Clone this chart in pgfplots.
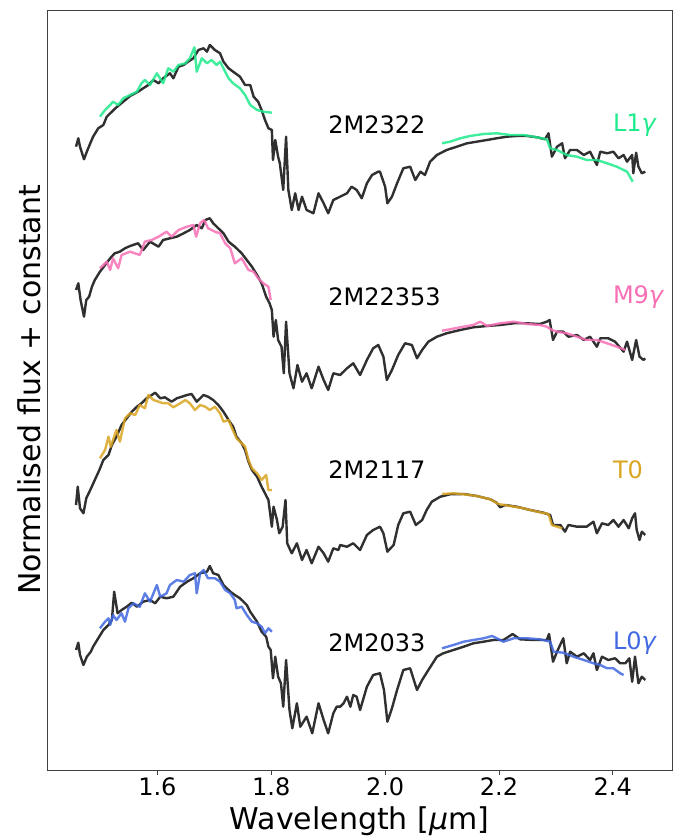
\documentclass[border=0pt]{standalone}
\usepackage{pgfplots}
\pgfplotsset{compat=1.18}
\usepackage{fontspec}
\setmainfont{DejaVu Sans}
\definecolor{spec}{HTML}{303030}
\definecolor{cgreen}{HTML}{1FEA8C}
\definecolor{cpink}{HTML}{F76EB5}
\definecolor{cgold}{HTML}{DAA520}
\definecolor{cblue}{HTML}{4169E1}
\begin{document}
\fontsize{24}{29}\selectfont
\begin{tikzpicture}
\begin{axis}[name=ax, scale only axis, width=625pt, height=760pt,
  xmin=1.406, xmax=2.504, ymin=0, ymax=7.6,
  xtick={1.6,1.8,2.0,2.2,2.4}, ytick=\empty, tick pos=left,
  xticklabel={\pgfmathprintnumber[fixed,fixed zerofill,precision=1]{\tick}},
  /pgf/number format/assume math mode=true,
  tick align=outside, major tick length=5pt,
  axis line style={black!75, line width=0.9pt},
  x tick style={black!75, line width=0.9pt},
  every tick label/.append style={font=\fontsize{24}{29}\selectfont, inner sep=2pt},
  label style={font=\fontsize{30}{36}\selectfont},
  xlabel={Wavelength [{\itshape μ}m]},
  ylabel={Normalised flux + constant},
  xlabel style={at={(axis description cs:0.5,-0.068)}, anchor=center},
  ylabel style={at={(axis description cs:-0.029,0.5)}, anchor=center},
  every axis plot/.append style={line width=2.4pt, line join=round},
  clip=false]
% ---------- 2M2322 ----------
\addplot[spec] table[row sep=\\] {
1.457 6.233\\ 1.461 6.317\\ 1.464 6.233\\ 1.471 6.107\\ 1.476 6.183\\ 1.482 6.267\\ 1.487 6.333\\ 1.496 6.417\\ 1.505 6.45\\ 1.511 6.533\\ 1.520 6.583\\ 1.528 6.627\\ 1.540 6.683\\ 1.552 6.74\\ 1.566 6.783\\ 1.575 6.817\\ 1.584 6.85\\ 1.593 6.9\\ 1.602 6.867\\ 1.610 6.917\\ 1.622 6.967\\ 1.628 6.917\\ 1.637 7.033\\ 1.646 7.05\\ 1.654 7.083\\ 1.663 7.117\\ 1.672 7.2\\ 1.681 7.217\\ 1.687 7.183\\ 1.692 7.25\\ 1.701 7.2\\ 1.710 7.167\\ 1.716 7.083\\ 1.725 7.017\\ 1.733 6.983\\ 1.745 6.933\\ 1.754 6.85\\ 1.763 6.85\\ 1.769 6.733\\ 1.777 6.683\\ 1.783 6.6\\ 1.789 6.5\\ 1.795 6.417\\ 1.801 6.4\\ 1.803 6.1\\ 1.807 6.3\\ 1.812 6.133\\ 1.815 6.067\\ 1.821 5.8\\ 1.826 6.333\\ 1.830 5.8\\ 1.836 5.6\\ 1.842 5.767\\ 1.848 5.6\\ 1.854 5.733\\ 1.862 5.6\\ 1.874 5.567\\ 1.883 5.767\\ 1.892 5.667\\ 1.900 5.567\\ 1.909 5.7\\ 1.921 5.733\\ 1.933 5.767\\ 1.941 5.833\\ 1.950 5.8\\ 1.959 5.717\\ 1.968 5.867\\ 1.977 5.95\\ 1.988 5.983\\ 1.991 5.983\\ 2.000 5.833\\ 2.004 5.667\\ 2.012 5.733\\ 2.021 5.867\\ 2.032 6.017\\ 2.044 6.033\\ 2.053 5.9\\ 2.062 5.983\\ 2.070 5.95\\ 2.079 6.083\\ 2.091 6.15\\ 2.108 6.2\\ 2.126 6.233\\ 2.144 6.267\\ 2.161 6.283\\ 2.179 6.3\\ 2.196 6.317\\ 2.214 6.333\\ 2.231 6.34\\ 2.249 6.34\\ 2.267 6.327\\ 2.281 6.307\\ 2.287 6.367\\ 2.293 6.133\\ 2.302 6.233\\ 2.311 6.267\\ 2.316 6.117\\ 2.325 6.2\\ 2.337 6.2\\ 2.349 6.15\\ 2.360 6.183\\ 2.372 6.05\\ 2.378 6.183\\ 2.390 6.167\\ 2.401 6.183\\ 2.410 6.117\\ 2.419 6.15\\ 2.425 6.083\\ 2.434 6.15\\ 2.436 5.967\\ 2.441 6.173\\ 2.445 6.033\\ 2.451 5.967\\ 2.457 5.983\\
};
\addplot[cgreen, opacity=0.85] table[row sep=\\] {
1.499 6.533\\ 1.508 6.6\\ 1.517 6.65\\ 1.522 6.683\\ 1.531 6.65\\ 1.540 6.717\\ 1.552 6.75\\ 1.564 6.783\\ 1.572 6.867\\ 1.578 6.9\\ 1.587 6.85\\ 1.599 6.967\\ 1.610 6.867\\ 1.619 7.017\\ 1.628 6.983\\ 1.637 7.05\\ 1.649 7.067\\ 1.657 7.117\\ 1.665 7.227\\ 1.669 6.983\\ 1.678 7.117\\ 1.687 7.067\\ 1.695 7.1\\ 1.704 7.05\\ 1.710 7.083\\ 1.719 6.983\\ 1.725 6.917\\ 1.733 6.867\\ 1.745 6.817\\ 1.754 6.75\\ 1.763 6.65\\ 1.775 6.6\\ 1.786 6.583\\ 1.801 6.573\\
};
\addplot[cgreen, opacity=0.85] table[row sep=\\] {
2.100 6.267\\ 2.114 6.283\\ 2.132 6.317\\ 2.149 6.34\\ 2.173 6.36\\ 2.196 6.367\\ 2.220 6.35\\ 2.243 6.35\\ 2.261 6.333\\ 2.284 6.307\\ 2.290 6.217\\ 2.302 6.2\\ 2.319 6.15\\ 2.337 6.133\\ 2.354 6.1\\ 2.372 6.1\\ 2.390 6.067\\ 2.407 6.033\\ 2.425 5.983\\ 2.435 5.883\\
};
% ---------- 2M22353 ----------
\addplot[spec] table[row sep=\\] {
1.457 4.8\\ 1.461 4.867\\ 1.465 4.7\\ 1.471 4.533\\ 1.475 4.7\\ 1.480 4.733\\ 1.485 4.833\\ 1.490 4.9\\ 1.499 4.983\\ 1.508 5.05\\ 1.517 5.117\\ 1.525 5.167\\ 1.534 5.183\\ 1.543 5.217\\ 1.552 5.24\\ 1.566 5.267\\ 1.575 5.2\\ 1.587 5.283\\ 1.602 5.233\\ 1.610 5.3\\ 1.622 5.317\\ 1.634 5.333\\ 1.646 5.367\\ 1.657 5.4\\ 1.669 5.45\\ 1.678 5.417\\ 1.684 5.5\\ 1.692 5.517\\ 1.698 5.467\\ 1.707 5.417\\ 1.716 5.367\\ 1.725 5.283\\ 1.736 5.233\\ 1.748 5.167\\ 1.757 5.1\\ 1.766 5.033\\ 1.775 4.95\\ 1.783 4.867\\ 1.791 4.733\\ 1.797 4.667\\ 1.801 4.6\\ 1.804 4.333\\ 1.808 4.5\\ 1.812 4.3\\ 1.818 4.233\\ 1.822 3.967\\ 1.826 4.483\\ 1.832 3.967\\ 1.839 3.817\\ 1.846 4.05\\ 1.854 3.883\\ 1.862 3.967\\ 1.871 3.817\\ 1.883 4.033\\ 1.892 3.9\\ 1.900 3.8\\ 1.909 3.967\\ 1.921 3.95\\ 1.933 4.017\\ 1.944 4.067\\ 1.956 3.95\\ 1.968 4.1\\ 1.979 4.217\\ 1.988 4.25\\ 1.997 4.133\\ 2.003 3.9\\ 2.012 4.0\\ 2.023 4.15\\ 2.035 4.267\\ 2.047 4.25\\ 2.056 4.117\\ 2.065 4.2\\ 2.076 4.283\\ 2.091 4.333\\ 2.108 4.367\\ 2.132 4.4\\ 2.155 4.427\\ 2.179 4.44\\ 2.202 4.45\\ 2.226 4.467\\ 2.249 4.467\\ 2.272 4.46\\ 2.284 4.483\\ 2.289 4.5\\ 2.295 4.3\\ 2.302 4.383\\ 2.313 4.383\\ 2.322 4.333\\ 2.337 4.35\\ 2.349 4.3\\ 2.360 4.333\\ 2.372 4.233\\ 2.378 4.317\\ 2.392 4.317\\ 2.404 4.283\\ 2.419 4.183\\ 2.425 4.283\\ 2.434 4.1\\ 2.441 4.3\\ 2.447 4.133\\ 2.454 4.1\\ 2.457 4.117\\
};
\addplot[cpink, opacity=0.85] table[row sep=\\] {
1.499 5.017\\ 1.511 5.083\\ 1.517 5.0\\ 1.522 5.117\\ 1.531 5.017\\ 1.537 5.15\\ 1.552 5.183\\ 1.569 5.15\\ 1.578 5.283\\ 1.590 5.3\\ 1.602 5.333\\ 1.616 5.383\\ 1.625 5.333\\ 1.637 5.4\\ 1.652 5.433\\ 1.663 5.45\\ 1.668 5.333\\ 1.675 5.467\\ 1.682 5.5\\ 1.689 5.417\\ 1.701 5.383\\ 1.710 5.367\\ 1.719 5.267\\ 1.728 5.217\\ 1.736 5.067\\ 1.748 5.117\\ 1.760 5.0\\ 1.769 4.983\\ 1.777 4.917\\ 1.786 4.867\\ 1.795 4.833\\ 1.799 4.7\\
};
\addplot[cpink, opacity=0.85] table[row sep=\\] {
2.100 4.393\\ 2.114 4.407\\ 2.132 4.427\\ 2.155 4.45\\ 2.167 4.483\\ 2.179 4.44\\ 2.202 4.467\\ 2.226 4.483\\ 2.249 4.46\\ 2.272 4.45\\ 2.284 4.433\\ 2.293 4.4\\ 2.302 4.383\\ 2.319 4.367\\ 2.337 4.333\\ 2.354 4.3\\ 2.372 4.3\\ 2.390 4.267\\ 2.407 4.233\\ 2.422 4.2\\
};
% ---------- 2M2117 ----------
\addplot[spec] table[row sep=\\] {
1.457 2.65\\ 1.460 2.833\\ 1.464 2.617\\ 1.470 2.567\\ 1.475 2.717\\ 1.482 2.8\\ 1.490 2.9\\ 1.498 3.0\\ 1.505 3.1\\ 1.514 3.15\\ 1.520 3.25\\ 1.528 3.333\\ 1.537 3.45\\ 1.546 3.517\\ 1.555 3.583\\ 1.564 3.633\\ 1.572 3.667\\ 1.581 3.717\\ 1.590 3.75\\ 1.596 3.773\\ 1.605 3.717\\ 1.613 3.727\\ 1.625 3.683\\ 1.634 3.717\\ 1.643 3.733\\ 1.652 3.75\\ 1.660 3.76\\ 1.669 3.683\\ 1.681 3.75\\ 1.689 3.733\\ 1.698 3.7\\ 1.707 3.65\\ 1.716 3.583\\ 1.725 3.5\\ 1.733 3.433\\ 1.739 3.333\\ 1.748 3.267\\ 1.754 3.2\\ 1.760 3.083\\ 1.766 3.0\\ 1.775 2.933\\ 1.783 2.833\\ 1.789 2.767\\ 1.795 2.7\\ 1.801 2.433\\ 1.804 2.633\\ 1.810 2.5\\ 1.814 2.367\\ 1.820 2.433\\ 1.825 2.7\\ 1.828 2.267\\ 1.836 2.167\\ 1.845 2.267\\ 1.854 2.1\\ 1.862 2.2\\ 1.871 2.067\\ 1.883 2.233\\ 1.892 2.167\\ 1.900 2.083\\ 1.909 2.217\\ 1.918 2.2\\ 1.921 2.25\\ 1.933 2.233\\ 1.944 2.267\\ 1.956 2.2\\ 1.968 2.35\\ 1.979 2.4\\ 1.991 2.433\\ 1.997 2.367\\ 2.004 2.183\\ 2.015 2.25\\ 2.023 2.45\\ 2.032 2.567\\ 2.044 2.583\\ 2.054 2.45\\ 2.065 2.5\\ 2.073 2.6\\ 2.082 2.683\\ 2.097 2.733\\ 2.114 2.757\\ 2.138 2.76\\ 2.161 2.74\\ 2.185 2.707\\ 2.196 2.673\\ 2.202 2.627\\ 2.211 2.65\\ 2.231 2.633\\ 2.255 2.6\\ 2.278 2.573\\ 2.290 2.55\\ 2.295 2.45\\ 2.308 2.45\\ 2.316 2.383\\ 2.322 2.45\\ 2.337 2.433\\ 2.354 2.433\\ 2.366 2.483\\ 2.372 2.367\\ 2.381 2.467\\ 2.392 2.45\\ 2.401 2.5\\ 2.410 2.433\\ 2.419 2.5\\ 2.428 2.417\\ 2.434 2.517\\ 2.439 2.567\\ 2.442 2.4\\ 2.447 2.3\\ 2.451 2.383\\ 2.457 2.35\\
};
\addplot[cgold, opacity=0.85] table[row sep=\\] {
1.499 3.117\\ 1.508 3.2\\ 1.514 3.333\\ 1.518 3.233\\ 1.528 3.4\\ 1.534 3.283\\ 1.543 3.517\\ 1.552 3.567\\ 1.561 3.55\\ 1.569 3.65\\ 1.578 3.617\\ 1.584 3.75\\ 1.593 3.7\\ 1.602 3.683\\ 1.610 3.667\\ 1.619 3.667\\ 1.628 3.627\\ 1.640 3.667\\ 1.649 3.7\\ 1.657 3.667\\ 1.666 3.6\\ 1.675 3.65\\ 1.684 3.633\\ 1.692 3.6\\ 1.701 3.633\\ 1.710 3.567\\ 1.716 3.483\\ 1.725 3.5\\ 1.731 3.417\\ 1.739 3.317\\ 1.748 3.267\\ 1.754 3.233\\ 1.760 3.1\\ 1.766 3.017\\ 1.775 2.967\\ 1.783 2.9\\ 1.791 2.95\\ 1.795 2.8\\ 1.801 2.8\\
};
\addplot[cgold, opacity=0.85] table[row sep=\\] {
2.100 2.76\\ 2.120 2.767\\ 2.138 2.757\\ 2.161 2.74\\ 2.185 2.707\\ 2.199 2.66\\ 2.220 2.64\\ 2.243 2.617\\ 2.267 2.583\\ 2.287 2.56\\ 2.293 2.45\\ 2.302 2.433\\ 2.311 2.417\\
};
% ---------- 2M2033 ----------
\addplot[spec] table[row sep=\\] {
1.457 1.2\\ 1.461 1.273\\ 1.464 1.15\\ 1.470 1.05\\ 1.476 1.133\\ 1.483 1.183\\ 1.487 1.233\\ 1.496 1.317\\ 1.505 1.4\\ 1.514 1.45\\ 1.520 1.5\\ 1.524 1.783\\ 1.530 1.567\\ 1.537 1.6\\ 1.546 1.633\\ 1.555 1.673\\ 1.564 1.633\\ 1.575 1.683\\ 1.587 1.7\\ 1.596 1.667\\ 1.605 1.733\\ 1.616 1.717\\ 1.628 1.733\\ 1.640 1.833\\ 1.652 1.883\\ 1.663 1.917\\ 1.675 1.967\\ 1.687 1.983\\ 1.692 2.04\\ 1.698 1.967\\ 1.707 1.95\\ 1.716 1.85\\ 1.728 1.783\\ 1.736 1.75\\ 1.745 1.717\\ 1.757 1.65\\ 1.763 1.583\\ 1.775 1.483\\ 1.783 1.383\\ 1.791 1.333\\ 1.795 1.233\\ 1.799 1.2\\ 1.803 0.917\\ 1.807 1.133\\ 1.812 0.933\\ 1.817 0.867\\ 1.821 0.633\\ 1.826 1.1\\ 1.832 0.6\\ 1.837 0.417\\ 1.845 0.667\\ 1.851 0.433\\ 1.862 0.533\\ 1.872 0.367\\ 1.883 0.667\\ 1.892 0.5\\ 1.900 0.367\\ 1.909 0.567\\ 1.915 0.633\\ 1.921 0.633\\ 1.927 0.667\\ 1.933 0.733\\ 1.939 0.633\\ 1.944 0.75\\ 1.950 0.733\\ 1.956 0.6\\ 1.968 0.833\\ 1.979 0.95\\ 1.991 0.967\\ 1.998 0.8\\ 2.004 0.483\\ 2.012 0.617\\ 2.021 0.8\\ 2.032 1.0\\ 2.044 1.017\\ 2.056 0.8\\ 2.065 0.9\\ 2.076 1.0\\ 2.091 1.133\\ 2.102 1.167\\ 2.120 1.2\\ 2.138 1.233\\ 2.155 1.267\\ 2.173 1.283\\ 2.190 1.3\\ 2.208 1.3\\ 2.224 1.36\\ 2.237 1.307\\ 2.261 1.3\\ 2.284 1.3\\ 2.288 1.36\\ 2.295 1.083\\ 2.302 1.183\\ 2.313 1.317\\ 2.319 1.067\\ 2.325 1.183\\ 2.337 1.133\\ 2.349 1.167\\ 2.360 1.1\\ 2.366 1.167\\ 2.372 1.0\\ 2.381 1.133\\ 2.392 1.1\\ 2.404 1.117\\ 2.413 1.067\\ 2.422 1.067\\ 2.429 1.117\\ 2.434 0.883\\ 2.439 1.133\\ 2.445 0.867\\ 2.451 0.933\\ 2.457 0.9\\
};
\addplot[cblue, opacity=0.85] table[row sep=\\] {
1.499 1.417\\ 1.508 1.483\\ 1.514 1.517\\ 1.517 1.45\\ 1.522 1.55\\ 1.528 1.5\\ 1.537 1.567\\ 1.543 1.483\\ 1.549 1.617\\ 1.558 1.667\\ 1.569 1.633\\ 1.578 1.767\\ 1.587 1.683\\ 1.599 1.85\\ 1.605 1.733\\ 1.616 1.767\\ 1.622 1.85\\ 1.634 1.9\\ 1.646 1.883\\ 1.657 1.95\\ 1.666 1.967\\ 1.669 1.767\\ 1.675 1.967\\ 1.681 2.0\\ 1.689 1.917\\ 1.701 1.917\\ 1.710 1.883\\ 1.719 1.8\\ 1.728 1.767\\ 1.736 1.7\\ 1.739 1.617\\ 1.748 1.633\\ 1.757 1.55\\ 1.766 1.483\\ 1.775 1.467\\ 1.783 1.433\\ 1.789 1.367\\ 1.795 1.417\\ 1.801 1.383\\
};
\addplot[cblue, opacity=0.85] table[row sep=\\] {
2.100 1.217\\ 2.120 1.25\\ 2.138 1.283\\ 2.155 1.3\\ 2.173 1.317\\ 2.188 1.34\\ 2.208 1.283\\ 2.226 1.317\\ 2.249 1.317\\ 2.272 1.307\\ 2.290 1.283\\ 2.296 1.183\\ 2.313 1.173\\ 2.331 1.133\\ 2.349 1.1\\ 2.366 1.067\\ 2.378 1.05\\ 2.390 1.017\\ 2.401 1.017\\ 2.413 0.967\\ 2.419 0.95\\
};
% ---------- labels ----------
\node[anchor=west, inner sep=0pt] at (axis cs:1.9,6.45) {2M2322};
\node[anchor=west, inner sep=0pt] at (axis cs:1.9,4.73) {2M22353};
\node[anchor=west, inner sep=0pt] at (axis cs:1.9,3.0) {2M2117};
\node[anchor=west, inner sep=0pt] at (axis cs:1.9,1.27) {2M2033};
\node[anchor=west, inner sep=0pt, text=cgreen] at (axis cs:2.4,6.45) {L1{\itshape γ}};
\node[anchor=west, inner sep=0pt, text=cpink] at (axis cs:2.4,4.73) {M9{\itshape γ}};
\node[anchor=west, inner sep=0pt, text=cgold] at (axis cs:2.4,3.0) {T0};
\node[anchor=west, inner sep=0pt, text=cblue] at (axis cs:2.4,1.27) {L0{\itshape γ}};
\end{axis}
\pgfresetboundingbox
\path[use as bounding box] ([xshift=-47pt,yshift=-67pt]ax.south west) rectangle ([xshift=1pt,yshift=10pt]ax.north east);
\end{tikzpicture}
\end{document}
